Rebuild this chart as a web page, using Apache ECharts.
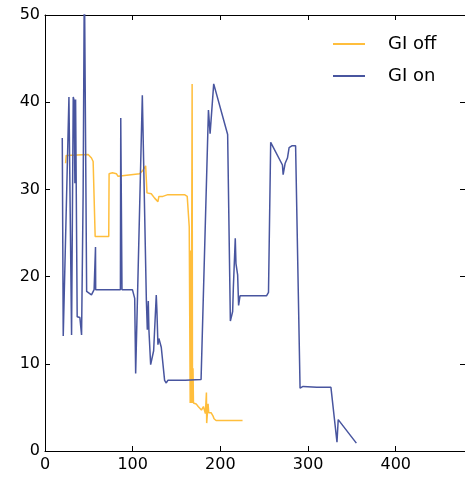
<!DOCTYPE html>
<html>
<head>
<meta charset="utf-8">
<script src="https://cdn.jsdelivr.net/npm/echarts@6/dist/echarts.min.js"></script>
<style>html,body{margin:0;padding:0;background:#fff}#c{width:465px;height:477px}</style>
</head>
<body>
<div id="c"></div>
<script>
var seriesNames = ["GI off", "GI on"];
var xTicks = [0, 100, 200, 300, 400];
var yTicks = [0, 10, 20, 30, 40, 50];

var offX = [23.5,24.2,49.2,51.1,53.0,54.9,57.0,57.2,72.7,73.1,74.6,76.9,81.4,83.3,85.2,108.0,111.7,114.8,116.3,121.2,125.0,126.9,128.8,129.9,134.4,140.1,159.1,162.2,164.5,165.6,166.2,166.8,167.8,168.2,168.8,169.3,172.4,174.7,176.9,178.4,180.7,182.9,184.1,184.4,186.0,186.7,189.4,191.7,192.8,195.1,225.3];
var offY = [33.0,33.9,34.0,33.8,33.6,33.2,33.0,24.6,24.6,31.8,32.0,31.9,31.8,31.5,31.7,31.8,32.2,32.7,29.6,29.5,29.0,29.2,28.6,29.2,29.2,29.4,29.4,29.2,25.7,5.5,23.0,5.5,42.1,5.5,9.5,5.5,5.4,5.1,5.2,4.7,5.1,4.3,6.7,3.2,5.4,4.4,4.4,4.0,3.7,3.5,3.5];

var onX = [19.7,20.8,27.3,30.3,32.2,33.2,34.1,34.9,36.7,39.8,41.7,43.5,44.9,46.9,47.5,49.2,53.0,56.0,57.5,57.6,57.8,86.0,86.4,87.5,87.8,99.7,101.1,102.3,103.4,111.0,112.8,115.6,116.7,117.8,118.5,120.5,121.3,123.9,126.9,127.6,128.8,129.9,131.5,132.6,136.4,138.3,140.1,160.0,178.0,179.9,186.4,188.3,192.4,208.3,211.4,214.0,214.8,217.0,217.8,219.7,220.8,222.4,252.6,254.9,257.4,270.8,271.6,273.9,275.3,276.5,278.4,281.5,285.8,290.9,292.8,294.3,310.0,326.1,333.0,334.4,355.1];
var onY = [35.9,13.2,40.6,13.3,40.6,40.2,30.7,40.3,15.4,15.3,13.3,29.6,55,55,18.3,18.3,17.9,18.5,18.5,23.4,18.5,18.5,38.2,38.2,18.5,18.5,18.3,17.5,8.9,40.8,40.6,17.3,13.9,17.2,13.9,9.9,10.1,11.5,17.9,16.2,12.2,12.9,13.1,11.9,8.1,7.8,8.1,8.1,8.2,8.2,39.1,36.4,42.1,36.3,14.9,16.0,18.7,24.4,21.5,20.2,16.7,17.8,17.8,18.2,35.4,32.8,31.7,33.0,32.9,33.6,34.8,35.0,35.0,7.2,7.1,7.4,7.3,7.3,1.0,3.6,0.9];

function zip(a, b) { return a.map(function (v, i) { return [v, b[i]]; }); }

var XMAX = 479, YMAX = 50;
var font = "DejaVu Sans";
var chart = echarts.init(document.getElementById('c'), null, {renderer: 'canvas'});
var tickStyle = {show: true, inside: true, length: 5, lineStyle: {color: '#000', width: 1}};
var lineAx = {show: true, onZero: false, lineStyle: {color: '#000', width: 1}};
chart.setOption({
  animation: false,
  grid: {left: 45, top: 15, width: 420, height: 436, containLabel: false},
  legend: {
    orient: 'vertical', left: 328, top: 30, itemGap: 14,
    icon: 'rect', itemWidth: 32, itemHeight: 2,
    textStyle: {fontFamily: font, fontSize: 18, color: '#000', padding: [0, 0, 0, 18]},
    data: seriesNames
  },
  xAxis: [
    {type: 'value', min: 0, max: XMAX, interval: 100, position: 'bottom',
     axisLine: lineAx, axisTick: tickStyle, splitLine: {show: false},
     axisLabel: {fontFamily: font, fontSize: 16, color: '#000', margin: 6, showMaxLabel: false,
       formatter: function (v) { return xTicks.indexOf(v) >= 0 ? String(v) : ''; }}},
    {type: 'value', min: 0, max: XMAX, interval: 100, position: 'top',
     axisLine: lineAx, axisTick: tickStyle, splitLine: {show: false}, axisLabel: {show: false}}
  ],
  yAxis: [
    {type: 'value', min: 0, max: YMAX, interval: 10, position: 'left',
     axisLine: lineAx, axisTick: tickStyle, splitLine: {show: false},
     axisLabel: {fontFamily: font, fontSize: 16, color: '#000', margin: 5,
       formatter: function (v) { return yTicks.indexOf(v) >= 0 ? String(v) : ''; }}},
    {type: 'value', min: 0, max: YMAX, interval: 10, position: 'right',
     axisLine: lineAx, axisTick: tickStyle, splitLine: {show: false}, axisLabel: {show: false}}
  ],
  series: [
    {name: seriesNames[0], type: 'line', data: zip(offX, offY), showSymbol: false, symbol: 'none', clip: true,
     color: '#ffbe3c', lineStyle: {color: '#ffbe3c', width: 1.5}},
    {name: seriesNames[1], type: 'line', data: zip(onX, onY), showSymbol: false, symbol: 'none', clip: true,
     color: '#48559f', lineStyle: {color: '#48559f', width: 1.5}}
  ]
});
</script>
</body>
</html>
